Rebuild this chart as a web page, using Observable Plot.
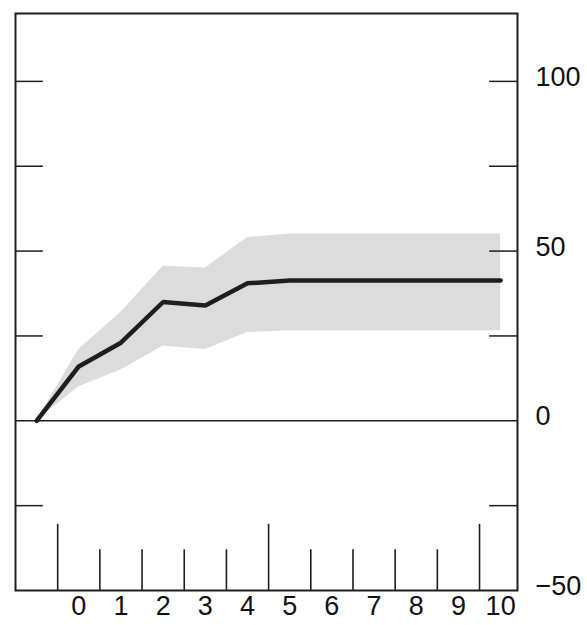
<!DOCTYPE html>
<html>
<head>
<meta charset="utf-8">
<script src="https://cdn.jsdelivr.net/npm/d3@7"></script>
<script src="https://cdn.jsdelivr.net/npm/@observablehq/plot@0.6"></script>
<style>
  html, body { margin: 0; padding: 0; background: #fff; }
  #chart svg { display: block; }
</style>
</head>
<body>
<div id="chart"></div>
<script>
// Data
const periods   = [-1, 0, 1, 2, 3, 4, 5, 6, 7, 8, 9, 10];
const central   = [0, 16, 23, 35, 34, 40.5, 41.3, 41.3, 41.3, 41.3, 41.3, 41.3];
const bandLow   = [0, 10, 15, 22, 21, 26, 26.5, 26.5, 26.5, 26.5, 26.5, 26.5];
const bandHigh  = [0, 21, 32, 45.5, 45, 54, 55, 55, 55, 55, 55, 55];

const xLabels   = [0, 1, 2, 3, 4, 5, 6, 7, 8, 9, 10];
const xTickPos  = [-0.5, 0.5, 1.5, 2.5, 3.5, 4.5, 5.5, 6.5, 7.5, 8.5, 9.5];
const xTickLong = [-0.5, 4.5, 9.5];
const yTickMarks = [-25, 25, 50, 75, 100];
const yLabels   = [-50, 0, 50, 100];

const X0 = -1.5, X1 = 10.4, Y0 = -50, Y1 = 120;

const rows = periods.map((p, i) => ({p, c: central[i], lo: bandLow[i], hi: bandHigh[i]}));
const ink = "#1e1e1e";
const tickW = 0.66; // tick length in x units (~28px)

const chart = Plot.plot({
  width: 587,
  height: 625,
  marginLeft: 15,
  marginRight: 70,
  marginTop: 13,
  marginBottom: 35,
  style: {fontFamily: "'Liberation Sans', Arial, sans-serif", background: "#fff"},
  x: {domain: [X0, X1], axis: null},
  y: {domain: [Y0, Y1], axis: null},
  marks: [
    Plot.areaY(rows, {x: "p", y1: "lo", y2: "hi", fill: "#dcdcdc"}),
    Plot.ruleY([0], {stroke: ink, strokeWidth: 1.6}),
    Plot.line(rows, {x: "p", y: "c", stroke: ink, strokeWidth: 4.5, strokeLinejoin: "miter"}),
    // inward ticks on left and right
    Plot.ruleY(yTickMarks, {y: d => d, x1: X0, x2: X0 + tickW, stroke: ink, strokeWidth: 1.5}),
    Plot.ruleY(yTickMarks, {y: d => d, x1: X1 - tickW, x2: X1, stroke: ink, strokeWidth: 1.5}),
    // vertical ticks on bottom
    Plot.ruleX(xTickPos, {x: d => d, y1: Y0, y2: d => xTickLong.includes(d) ? -30.5 : -38, stroke: ink, strokeWidth: 1.6}),
    Plot.frame({stroke: ink, strokeWidth: 2}),
    // labels
    Plot.text(xLabels, {x: d => d, frameAnchor: "bottom", dy: 24, text: d => String(d), fontSize: 27, fill: "#111"}),
    Plot.text(yLabels, {y: d => d, frameAnchor: "right", dx: 18, dy: -4, textAnchor: "start",
      text: d => d < 0 ? "\u2212" + (-d) : String(d), fontSize: 27, fill: "#111"})
  ]
});
document.getElementById("chart").appendChild(chart);
</script>
</body>
</html>
